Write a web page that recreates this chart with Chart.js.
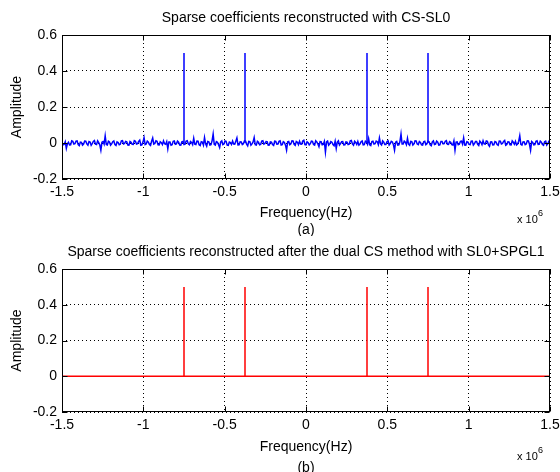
<!DOCTYPE html>
<html>
<head>
<meta charset="utf-8">
<script src="https://cdn.jsdelivr.net/npm/chart.js@4.4.1/dist/chart.umd.min.js"></script>
<style>
  html, body { margin: 0; padding: 0; background: #fff; }
  canvas { display: block; }
</style>
</head>
<body>
<canvas id="chart-a" width="560" height="236"></canvas>
<canvas id="chart-b" width="560" height="236"></canvas>
<script>
// frequency in units of 10^6 Hz
const freqMin = -1.5;
const freqMax = 1.5;
const xTicks = [-1.5, -1, -0.5, 0, 0.5, 1, 1.5];
const yTicks = [-0.2, 0, 0.2, 0.4, 0.6];

// recovered tones
const spikeFreqs = [-0.75, -0.375, 0.375, 0.75];
const spikeAmpsSL0 = [0.5, 0.5, 0.5, 0.5];
const spikeAmpsDual = [0.5, 0.5, 0.5, 0.5];

// residual floor of the CS-SL0 reconstruction left to right
const noiseSL0 = [
  0.006, -0.010, -0.008, 0.007, -0.030, -0.004, 0.004, -0.011, -0.010, 0.012, 0.009, -0.006, -0.004, 0.010, 0.012, -0.009, -0.015, 0.005, 0.003, -0.012,
  -0.006, 0.011, 0.010, -0.005, -0.012, 0.008, 0.005, -0.013, -0.003, 0.009, 0.014, -0.007, -0.009, 0.012, 0.002, -0.010, -0.040, 0.004, 0.008, -0.006,
  0.040, -0.008, -0.011, 0.010, 0.006, -0.012, -0.005, 0.007, 0.011, -0.009, -0.014, 0.006, 0.003, -0.010, -0.007, 0.012, 0.013, -0.005, -0.002, 0.009,
  0.007, -0.011, -0.012, 0.008, 0.004, -0.007, -0.008, 0.013, 0.010, -0.006, -0.004, 0.009, 0.016, -0.012, -0.010, 0.005, 0.030, -0.009, -0.006, 0.011,
  0.005, -0.008, -0.013, 0.010, 0.028, -0.006, -0.003, 0.012, 0.009, -0.010, -0.011, 0.007, 0.002, -0.009, 0.012, -0.004, -0.007, 0.008, -0.032, 0.006,
  0.006, -0.012, -0.009, 0.009, 0.011, -0.007, -0.005, 0.010, 0.004, -0.011, -0.012, 0.006, 0.008, -0.008, -0.006, 0.011, 0.013, -0.005, -0.010, 0.008,
  0.003, -0.009, 0.026, -0.006, -0.008, 0.011, 0.010, -0.010, -0.014, 0.007, 0.005, -0.012, 0.030, -0.005, -0.018, 0.009, 0.007, -0.011, -0.009, 0.012,
  0.050, -0.007, -0.011, 0.008, 0.004, -0.010, -0.025, 0.006, 0.012, -0.009, -0.006, 0.011, 0.009, -0.012, -0.013, 0.005, 0.002, -0.008, 0.011, -0.006,
  -0.007, 0.010, 0.028, -0.011, -0.010, 0.007, 0.006, -0.009, -0.004, 0.012, 0.010, -0.006, -0.016, 0.009, 0.008, -0.012, -0.005, 0.006, 0.030, -0.010,
  -0.012, 0.009, 0.004, -0.010, -0.008, 0.011, 0.013, -0.006, -0.003, 0.008, 0.007, -0.012, -0.011, 0.006, 0.005, -0.009, -0.014, 0.010, 0.009, -0.007,
  -0.006, 0.009, 0.012, -0.011, -0.009, 0.007, 0.003, -0.012, -0.040, 0.006, 0.008, -0.010, -0.005, 0.012, 0.011, -0.007, -0.013, 0.008, 0.004, -0.009,
  0.010, -0.006, -0.007, 0.011, 0.015, -0.009, -0.010, 0.007, 0.002, -0.011, -0.004, 0.010, 0.009, -0.008, -0.012, 0.012, 0.006, -0.005, -0.020, 0.008,
  0.007, -0.010, -0.008, 0.009, -0.050, 0.006, 0.011, -0.012, -0.005, 0.008, 0.004, -0.009, -0.015, 0.010, -0.030, 0.005, 0.012, -0.011, -0.003, 0.007,
  0.008, -0.011, -0.010, 0.006, 0.005, -0.009, -0.007, 0.012, 0.014, -0.005, -0.012, 0.010, 0.003, -0.008, 0.009, -0.012, -0.006, 0.007, 0.011, -0.010,
  -0.009, 0.010, 0.006, -0.007, 0.024, -0.010, -0.014, 0.008, 0.010, -0.006, -0.004, 0.011, 0.007, -0.009, 0.028, -0.005, -0.011, 0.012, 0.005, -0.008,
  -0.008, 0.007, 0.012, -0.011, -0.003, 0.009, 0.006, -0.010, -0.040, 0.005, 0.009, -0.012, -0.010, 0.008, 0.050, -0.006, -0.006, 0.010, 0.004, -0.009,
  0.026, -0.007, -0.013, 0.009, 0.008, -0.011, -0.005, 0.012, 0.011, -0.006, -0.009, 0.008, 0.003, -0.010, -0.012, 0.007, 0.010, -0.009, -0.004, 0.011,
  0.007, -0.010, -0.015, 0.006, 0.012, -0.008, -0.006, 0.011, 0.005, -0.012, -0.010, 0.009, 0.009, -0.005, -0.003, 0.010, 0.013, -0.007, -0.008, 0.008,
  0.004, -0.009, -0.011, 0.012, -0.040, 0.005, 0.006, -0.010, -0.007, 0.009, 0.010, -0.006, 0.028, -0.011, -0.012, 0.007, 0.005, -0.008, -0.009, 0.010,
  0.011, -0.012, -0.004, 0.008, 0.008, -0.007, -0.014, 0.010, 0.003, -0.009, 0.012, -0.005, -0.006, 0.011, 0.009, -0.010, -0.018, 0.006, 0.007, -0.011,
  -0.010, 0.008, 0.005, -0.009, -0.013, 0.011, 0.010, -0.006, -0.003, 0.009, 0.014, -0.012, -0.008, 0.007, 0.006, -0.010, -0.011, 0.012, 0.004, -0.007,
  0.009, -0.011, -0.006, 0.010, 0.040, -0.008, -0.012, 0.006, 0.007, -0.009, -0.005, 0.012, 0.011, -0.007, -0.040, 0.008, 0.003, -0.010, -0.009, 0.009,
  0.012, -0.008, -0.007, 0.011, 0.005, -0.009, -0.013, 0.007, 0.010, -0.012, -0.004, 0.010, 0.015
];

Chart.defaults.font.family = 'Arial, "Liberation Sans", sans-serif';
Chart.defaults.color = '#000';

// each spike is a vertical stroke from 0 to its amplitude, broken off by a NaN
function spikePoints(freqs, amps) {
  const pts = [];
  freqs.forEach((f, i) => {
    pts.push({ x: f, y: 0 }, { x: f, y: amps[i] }, { x: f, y: NaN });
  });
  return pts;
}

const step = (freqMax - freqMin) / (noiseSL0.length - 1);
const sl0Floor = noiseSL0.map((v, i) => ({ x: freqMin + i * step, y: v }));
const dualFloor = [{ x: freqMin, y: 0 }, { x: freqMax, y: 0 }];

const fmt = v => String(Number(v.toFixed(2)));

// box, inward ticks, x label, sub caption and exponent, MATLAB style
const matlabAxes = {
  id: 'matlabAxes',
  afterDraw(chart, args, o) {
    const { ctx, chartArea: a, scales } = chart;
    const l = Math.round(a.left) + 0.5, r = Math.round(a.right) - 0.5;
    const t = Math.round(a.top) + 0.5, b = Math.round(a.bottom) - 0.5;
    ctx.save();
    ctx.strokeStyle = '#000';
    ctx.lineWidth = 1;
    ctx.strokeRect(l, t, r - l, b - t);
    ctx.beginPath();
    xTicks.forEach(v => {
      const px = Math.round(scales.x.getPixelForValue(v)) + 0.5;
      ctx.moveTo(px, b); ctx.lineTo(px, b - 5);
      ctx.moveTo(px, t); ctx.lineTo(px, t + 5);
    });
    yTicks.forEach(v => {
      const py = Math.round(scales.y.getPixelForValue(v)) + 0.5;
      ctx.moveTo(l, py); ctx.lineTo(l + 5, py);
      ctx.moveTo(r, py); ctx.lineTo(r - 5, py);
    });
    ctx.stroke();

    const cx = (a.left + a.right) / 2;
    ctx.fillStyle = '#000';
    ctx.textAlign = 'center';
    ctx.textBaseline = 'middle';
    ctx.font = '14px Arial, "Liberation Sans", sans-serif';
    ctx.fillText('Frequency(Hz)', cx, a.bottom + o.labelOffset);
    ctx.fillText(o.caption, cx, a.bottom + o.captionOffset);

    ctx.textAlign = 'left';
    ctx.font = '11px Arial, "Liberation Sans", sans-serif';
    ctx.fillText('x 10', a.right - 33, a.bottom + o.expOffset);
    ctx.font = '9px Arial, "Liberation Sans", sans-serif';
    ctx.fillText('6', a.right - 12, a.bottom + o.expOffset - 6);
    ctx.restore();
  }
};

function makeChart(id, title, floor, spikes, color, floorWidth, layout) {
  new Chart(document.getElementById(id), {
    type: 'line',
    data: {
      datasets: [{
        data: floor,
        borderColor: color,
        borderWidth: floorWidth,
        pointRadius: 0,
        tension: 0,
        fill: false
      }, {
        data: spikes,
        borderColor: color,
        borderWidth: 1.5,
        pointRadius: 0,
        tension: 0,
        fill: false,
        spanGaps: false
      }]
    },
    options: {
      responsive: false,
      animation: false,
      devicePixelRatio: 1,
      layout: { padding: { left: 0, right: 10, top: 0, bottom: 0 } },
      plugins: {
        legend: { display: false },
        tooltip: { enabled: false },
        title: {
          display: true,
          text: title,
          fullSize: false,
          font: { size: 14, weight: 'normal' },
          padding: { top: layout.titleTop, bottom: layout.titleBottom }
        },
        matlabAxes: layout
      },
      scales: {
        x: {
          type: 'linear',
          min: freqMin,
          max: freqMax,
          afterBuildTicks: s => { s.ticks = xTicks.map(v => ({ value: v })); },
          afterFit: s => { s.height = layout.xHeight; s.paddingLeft = 0; s.paddingRight = 0; },
          ticks: { callback: fmt, font: { size: 14 }, padding: 5, maxRotation: 0, autoSkip: false },
          grid: { color: '#000', lineWidth: 1, drawTicks: false },
          border: { display: false, dash: [1, 3] }
        },
        y: {
          min: -0.2,
          max: 0.6,
          afterBuildTicks: s => { s.ticks = yTicks.map(v => ({ value: v })); },
          afterFit: s => { s.width = 62; s.paddingTop = 0; s.paddingBottom = 0; },
          ticks: { callback: fmt, font: { size: 14 }, padding: 5 },
          grid: { color: '#000', lineWidth: 1, drawTicks: false },
          border: { display: false, dash: [1, 3] },
          title: { display: true, text: 'Amplitude', font: { size: 14 }, padding: { top: 9, bottom: 0 } }
        }
      }
    },
    plugins: [matlabAxes]
  });
}

makeChart('chart-a', 'Sparse coefficients reconstructed with CS-SL0', sl0Floor, spikePoints(spikeFreqs, spikeAmpsSL0), '#0000ff', 1.5,
  { titleTop: 10, titleBottom: 8.2, xHeight: 57, caption: '(a)', labelOffset: 34, captionOffset: 51, expOffset: 41 });
makeChart('chart-b', 'Sparse coefficients reconstructed after the dual CS method with SL0+SPGL1', dualFloor, spikePoints(spikeFreqs, spikeAmpsDual), '#ff0000', 1.5,
  { titleTop: 7.6, titleBottom: 8.6, xHeight: 60, caption: '(b)', labelOffset: 35, captionOffset: 56, expOffset: 45 });
</script>
</body>
</html>
